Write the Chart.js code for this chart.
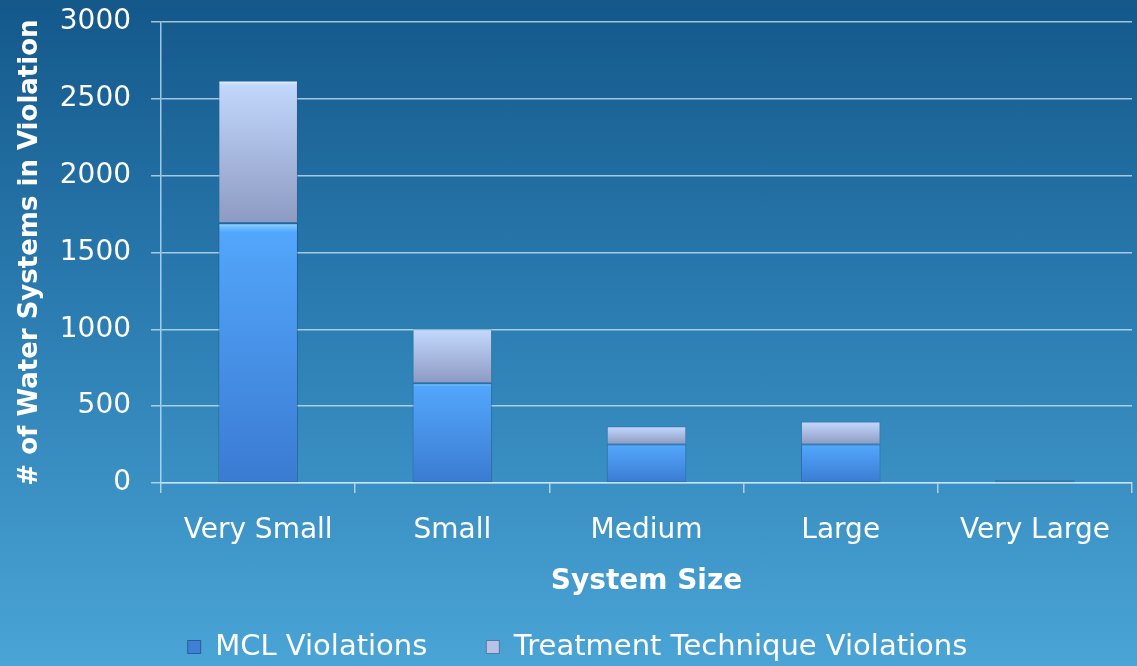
<!DOCTYPE html>
<html>
<head>
<meta charset="utf-8">
<script src="https://cdn.jsdelivr.net/npm/chart.js@4"></script>
<style>
  html, body { margin: 0; padding: 0; }
  body {
    width: 1137px; height: 666px; overflow: hidden;
    background: linear-gradient(to bottom, #14588a 0%, #2a7bb0 45%, #4aa4d6 100%);
  }
  #wrap { position: relative; width: 1137px; height: 666px; }
</style>
</head>
<body>
<div id="wrap"><canvas id="violationChart"></canvas></div>
<script>
// values
const sizes = ['Very Small', 'Small', 'Medium', 'Large', 'Very Large'];
const mclViolations = [1690, 650, 250, 250, 12];
const ttViolations = [930, 350, 120, 150, 8];
const yTicks = [0, 500, 1000, 1500, 2000, 2500, 3000];

const FONT = "'DejaVu Sans', sans-serif";
const gridColor = 'rgba(205, 232, 250, 0.75)';

// vertical gradient per bar, computed from the bar's own extent on the y scale
function barFill(context, lowArr, highArr, stops, solid) {
  const chart = context.chart;
  const i = context.dataIndex;
  if (i === undefined || !chart.chartArea || !chart.scales.y) return solid;
  const y = chart.scales.y;
  const low = lowArr ? lowArr[i] : 0;
  const high = low + highArr[i];
  const yTop = y.getPixelForValue(high);
  const yBot = y.getPixelForValue(low);
  if (!isFinite(yTop) || !isFinite(yBot) || yBot - yTop < 1) return solid;
  const g = chart.ctx.createLinearGradient(0, yTop, 0, yBot);
  stops.forEach(s => g.addColorStop(s[0], s[1]));
  return g;
}

Chart.defaults.font.family = FONT;
Chart.defaults.color = '#ffffff';

const ctx = document.getElementById('violationChart').getContext('2d');
new Chart(ctx, {
  type: 'bar',
  data: {
    labels: sizes,
    datasets: [
      {
        label: 'MCL Violations',
        data: mclViolations,
        backgroundColor: c => barFill(c, null, mclViolations,
          [[0, '#9ddcff'], [0.012, '#74c2ff'], [0.035, '#52a6fb'], [1, '#3b7bd2']], '#3f80d8'),
        borderColor: 'rgba(20, 55, 110, 0.4)',
        borderWidth: 1,
        borderSkipped: false
      },
      {
        label: 'Treatment Technique Violations',
        data: ttViolations,
        backgroundColor: c => barFill(c, mclViolations, ttViolations,
          [[0, '#eef6ff'], [0.03, '#c2d7fb'], [1, '#8d9ac2']], '#b4c2e6'),
        borderColor: 'rgba(60, 80, 125, 0.35)',
        borderWidth: 1,
        borderSkipped: false
      }
    ]
  },
  options: {
    responsive: true,
    maintainAspectRatio: false,
    animation: false,
    layout: { padding: { left: 23, right: 5, top: 22, bottom: 0 } },
    datasets: {
      bar: { categoryPercentage: 1, barPercentage: 0.41 }
    },
    scales: {
      x: {
        stacked: true,
        grid: {
          display: true,
          drawOnChartArea: false,
          drawTicks: true,
          tickLength: 10,
          color: gridColor,
          lineWidth: 1.5
        },
        border: { display: true, color: gridColor, width: 1.5 },
        ticks: {
          color: '#ffffff',
          padding: 21,
          font: { family: FONT, size: 28 }
        },
        title: {
          display: true,
          text: 'System Size',
          color: '#ffffff',
          font: { family: FONT, size: 28, weight: 'bold' },
          padding: { top: -3.4, bottom: -25.3 }
        }
      },
      y: {
        stacked: true,
        min: 0,
        max: 3000,
        afterBuildTicks: axis => { axis.ticks = yTicks.map(v => ({ value: v })); },
        grid: {
          color: gridColor,
          lineWidth: 1.5,
          tickLength: 10
        },
        border: { display: true, color: gridColor, width: 1.5 },
        ticks: {
          color: '#ffffff',
          padding: 20,
          font: { family: FONT, size: 28, lineHeight: 0.15 },
          callback: v => String(v)
        },
        title: {
          display: true,
          text: '# of Water Systems in Violation',
          color: '#ffffff',
          font: { family: FONT, size: 26, weight: 'bold' },
          padding: { top: -8.6, bottom: -5.8 }
        }
      }
    },
    plugins: {
      tooltip: { enabled: false },
      legend: {
        position: 'bottom',
        maxHeight: 92.5,
        labels: {
          color: '#ffffff',
          boxWidth: 13,
          boxHeight: 13,
          padding: 59,
          font: { family: FONT, size: 29 },
          generateLabels: chart => [
            { text: 'MCL Violations', fillStyle: '#3f7fd4', strokeStyle: 'rgba(25,60,115,0.6)', lineWidth: 1, fontColor: '#ffffff', datasetIndex: 0 },
            { text: 'Treatment Technique Violations', fillStyle: '#b6c3e6', strokeStyle: 'rgba(60,80,125,0.6)', lineWidth: 1, fontColor: '#ffffff', datasetIndex: 1 }
          ]
        }
      }
    }
  }
});
</script>
</body>
</html>
